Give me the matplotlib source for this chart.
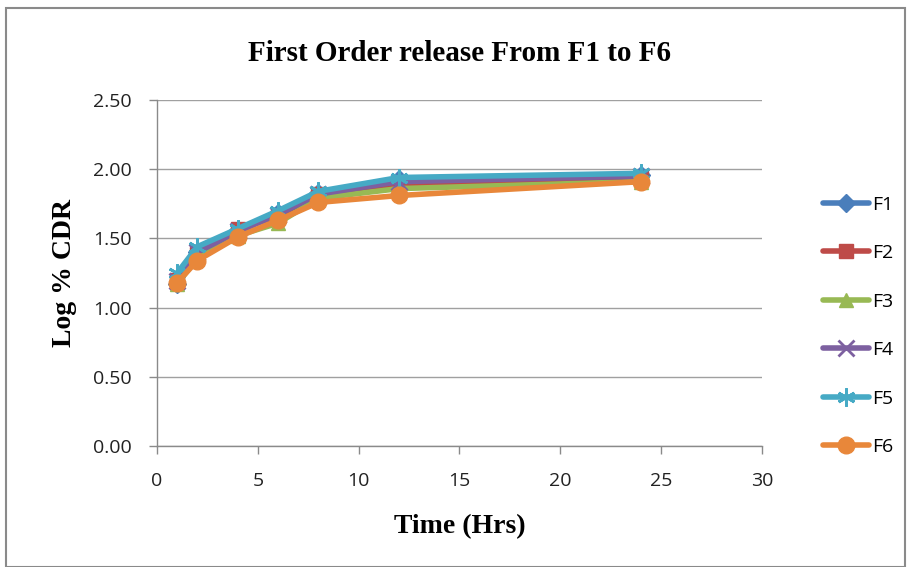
import matplotlib
matplotlib.use("Agg")
import matplotlib.pyplot as plt
from matplotlib.patches import Rectangle

time_hrs = [1, 2, 4, 6, 8, 12, 24]
series_names = ["F1", "F2", "F3", "F4", "F5", "F6"]
F1 = [1.17, 1.40, 1.56, 1.68, 1.83, 1.93, 1.96]
F2 = [1.20, 1.39, 1.57, 1.66, 1.82, 1.89, 1.94]
F3 = [1.17, 1.36, 1.52, 1.61, 1.79, 1.86, 1.91]
F4 = [1.19, 1.40, 1.55, 1.67, 1.82, 1.91, 1.95]
F5 = [1.25, 1.44, 1.57, 1.70, 1.84, 1.94, 1.97]
F6 = [1.18, 1.34, 1.51, 1.63, 1.76, 1.81, 1.91]
series_values = [F1, F2, F3, F4, F5, F6]

colors = ["#4A7EBB", "#BE4B48", "#98B954", "#7D60A0", "#46AAC5", "#E8873A"]
markers = ["D", "s", "^", "x", (6, 2, 0), "o"]
msizes = [9, 10, 10, 12, 13, 12]

fig = plt.figure(figsize=(9.11, 5.67), dpi=100)
fig.patches.append(Rectangle((6/911, 0), 899/911, 1 - 8/567, transform=fig.transFigure,
                             fill=False, edgecolor="#8a8a8a", linewidth=1.5))

ax = fig.add_axes([157/911, 1 - 446/567, 605/911, 346/567])

for name, vals, c, m, ms in zip(series_names, series_values, colors, markers, msizes):
    mew = 2 if m in ("x",) or isinstance(m, tuple) else 1
    ax.plot(time_hrs, vals, color=c, linewidth=4, marker=m, markersize=ms,
            markerfacecolor=c, markeredgecolor=c, markeredgewidth=mew, label=name,
            solid_capstyle="round", solid_joinstyle="round")

ax.set_xlim(0, 30)
ax.set_ylim(0, 2.5)
ax.set_xticks([0, 5, 10, 15, 20, 25, 30])
ax.set_yticks([0, 0.5, 1.0, 1.5, 2.0, 2.5])
ax.set_yticklabels([f"{v:.2f}" for v in [0, 0.5, 1.0, 1.5, 2.0, 2.5]])
ax.yaxis.grid(True, color="#a0a0a0", linewidth=1)
ax.set_axisbelow(True)
for s in ["top", "right"]:
    ax.spines[s].set_visible(False)
for s in ["left", "bottom"]:
    ax.spines[s].set_color("#8a8a8a")
    ax.spines[s].set_linewidth(1)
ax.tick_params(axis="both", colors="#8a8a8a", labelcolor="#222222", labelsize=14, length=6, width=1)
ax.tick_params(axis="x", pad=13)
ax.tick_params(axis="y", pad=12)
for lbl in ax.get_xticklabels() + ax.get_yticklabels():
    lbl.set_family("Open Sans")

ax.set_title("First Order release From F1 to F6", fontfamily="Liberation Serif",
             fontweight="bold", fontsize=21, pad=28)
ax.set_xlabel("Time (Hrs)", fontfamily="Liberation Serif", fontweight="bold", fontsize=20, labelpad=17)
ax.set_ylabel("Log % CDR", fontfamily="Liberation Serif", fontweight="bold", fontsize=20, labelpad=12)

leg = fig.legend(loc="upper left", bbox_to_anchor=(805/911, 1 - 178/567), frameon=False,
                 prop={"family": "Open Sans", "size": 14}, labelspacing=1.57,
                 handlelength=2.4, handletextpad=0.15)

fig.savefig("out.png", dpi=100)
